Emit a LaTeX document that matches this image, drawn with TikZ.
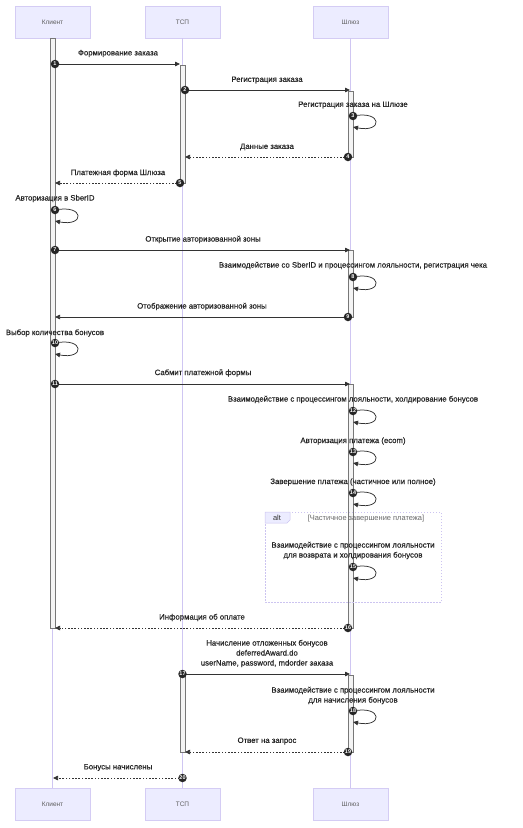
\documentclass[tikz,border=0pt]{standalone}
\usepackage{fontspec}
\setmainfont{Liberation Sans}
\newfontfamily\lblfont[FakeBold=0.6]{Liberation Sans}
\usetikzlibrary{arrows.meta,shapes.misc}
\definecolor{actF}{HTML}{ECECFF}
\definecolor{actB}{HTML}{D4CCF4}
\definecolor{lifeC}{HTML}{CFC6F2}
\definecolor{msgC}{HTML}{333333}
\definecolor{barB}{HTML}{777777}
\definecolor{barF}{HTML}{F4F4F4}
\definecolor{altB}{HTML}{CCC4F0}
\definecolor{condC}{HTML}{666666}
\tikzset{
  actor/.style={draw=actB, fill=actF, line width=0.6bp, minimum width=75bp, minimum height=32bp, inner sep=0pt, font=\fontsize{6.5}{8}\selectfont, text=msgC!80},
  lifeline/.style={draw=lifeC, line width=0.6bp},
  actbar/.style={draw=barB, fill=barF, line width=0.5bp},
  msg/.style={draw=msgC, line width=0.75bp, -{Triangle[length=5bp,width=4.5bp]}},
  reply/.style={msg, dash pattern=on 1.6bp off 1.6bp},
  selfmsg/.style={draw=msgC, line width=0.75bp, -{Triangle[length=5bp,width=4.5bp]}},
  lbl/.style={font=\lblfont\fontsize{7.8}{10}\selectfont, text=black!85, inner sep=0pt, align=center},
  num/.style={circle, fill=black!85, text=white, inner sep=0pt, minimum size=8.5bp, font=\fontsize{5.5}{5}\selectfont\bfseries},
  altbox/.style={draw=altB, dash pattern=on 1.5bp off 1.5bp, line width=0.6bp},
  altlbl/.style={draw=altB, fill=actF, line width=0.5bp},
  cond/.style={font=\fontsize{7.5}{9}\selectfont, text=condC, inner sep=0pt},
}
\begin{document}
\begin{tikzpicture}[x=1bp,y=-1bp]
\useasboundingbox (0,0) rectangle (523,828);
% lifelines
\node[actor] (kT) at (52.5,22) {Клиент};
\node[actor] (tT) at (182.5,22) {ТСП};
\node[actor] (sT) at (350.5,22) {Шлюз};
\node[actor] (kB) at (52.5,804.5) {Клиент};
\node[actor] (tB) at (182.5,804.5) {ТСП};
\node[actor] (sB) at (350.5,804.5) {Шлюз};
\draw[lifeline] (kT.south) -- (kB.north);
\draw[lifeline] (tT.south) -- (tB.north);
\draw[lifeline] (sT.south) -- (sB.north);
% activation bars
\draw[actbar] (50,38) rectangle (55,628);
\draw[actbar] (180,65) rectangle (185,183);
\draw[actbar] (348,91) rectangle (353,157);
\draw[actbar] (348,250) rectangle (353,317);
\draw[actbar] (348,384) rectangle (353,628);
\draw[actbar] (180,674) rectangle (185,752);
\draw[actbar] (348,675) rectangle (353,752);
% alt frame
\draw[altbox] (265,512) rectangle (441,602);
\draw[altlbl] (265,512) -- (290,512) -- (290,520) -- (287,523) -- (265,523) -- cycle;
\node[cond, text=msgC] (altt) at (277,517.5) {alt};
\node[cond] (altc) at (366,519) {[Частичное завершение платежа]};
% 1
\coordinate (m1s) at (55,64); \coordinate (m1e) at (180,64);
\draw[msg] (m1s) -- (m1e);
\node[lbl] (l1) at (118,53.5) {Формирование заказа};
\node[num] (n1) at (m1s) {1};
% 2
\coordinate (m2s) at (185,90); \coordinate (m2e) at (350,90);
\draw[msg] (m2s) -- (m2e);
\node[lbl] (l2) at (267,80) {Регистрация заказа};
\node[num] (n2) at (m2s) {2};
% 3
\coordinate (m3s) at (353,116); \coordinate (m3e) at (353,127);
\draw[selfmsg] (m3s) .. controls (383,110) and (383,133) .. (m3e);
\node[lbl] (l3) at (353,105) {Регистрация заказа на Шлюзе};
\node[num] (n3) at (m3s) {3};
% 4
\coordinate (m4s) at (348,157); \coordinate (m4e) at (185,157);
\draw[reply] (m4s) -- (m4e);
\node[lbl] (l4) at (267,147) {Данные заказа};
\node[num] (n4) at (m4s) {4};
% 5
\coordinate (m5s) at (180,183); \coordinate (m5e) at (55,183);
\draw[reply] (m5s) -- (m5e);
\node[lbl] (l5) at (118,173) {Платежная форма Шлюза};
\node[num] (n5) at (m5s) {5};
% 6
\coordinate (m6s) at (55,210); \coordinate (m6e) at (55,221);
\draw[selfmsg] (m6s) .. controls (85,204) and (85,227) .. (m6e);
\node[lbl] (l6) at (55,198.5) {Авторизация в SberID};
\node[num] (n6) at (m6s) {6};
% 7
\coordinate (m7s) at (55,250); \coordinate (m7e) at (350,250);
\draw[msg] (m7s) -- (m7e);
\node[lbl] (l7) at (203,239.5) {Открытие авторизованной зоны};
\node[num] (n7) at (m7s) {7};
% 8
\coordinate (m8s) at (353,277); \coordinate (m8e) at (353,288);
\draw[selfmsg] (m8s) .. controls (383,271) and (383,294) .. (m8e);
\node[lbl] (l8) at (353,265.5) {Взаимодействие со SberID и процессингом лояльности, регистрация чека};
\node[num] (n8) at (m8s) {8};
% 9
\coordinate (m9s) at (348,317); \coordinate (m9e) at (55,317);
\draw[msg] (m9s) -- (m9e);
\node[lbl] (l9) at (202,306.5) {Отображение авторизованной зоны};
\node[num] (n9) at (m9s) {9};
% 10
\coordinate (m10s) at (55,343); \coordinate (m10e) at (55,354);
\draw[selfmsg] (m10s) .. controls (85,337) and (85,360) .. (m10e);
\node[lbl] (l10) at (55,333) {Выбор количества бонусов};
\node[num] (n10) at (m10s) {10};
% 11
\coordinate (m11s) at (55,384); \coordinate (m11e) at (350,384);
\draw[msg] (m11s) -- (m11e);
\node[lbl] (l11) at (203,373) {Сабмит платежной формы};
\node[num] (n11) at (m11s) {11};
% 12
\coordinate (m12s) at (353,411); \coordinate (m12e) at (353,422);
\draw[selfmsg] (m12s) .. controls (383,405) and (383,428) .. (m12e);
\node[lbl] (l12) at (353,399.5) {Взаимодействие с процессингом лояльности, холдирование бонусов};
\node[num] (n12) at (m12s) {12};
% 13
\coordinate (m13s) at (353,452); \coordinate (m13e) at (353,463);
\draw[selfmsg] (m13s) .. controls (383,446) and (383,469) .. (m13e);
\node[lbl] (l13) at (353,441) {Авторизация платежа (ecom)};
\node[num] (n13) at (m13s) {13};
% 14
\coordinate (m14s) at (353,493); \coordinate (m14e) at (353,504);
\draw[selfmsg] (m14s) .. controls (383,487) and (383,510) .. (m14e);
\node[lbl] (l14) at (353,482) {Завершение платежа (частичное или полное)};
\node[num] (n14) at (m14s) {14};
% 15
\coordinate (m15s) at (353,567); \coordinate (m15e) at (353,578);
\draw[selfmsg] (m15s) .. controls (383,561) and (383,584) .. (m15e);
\node[lbl] (l15) at (353,550.5) {Взаимодействие с процессингом лояльности\\для возврата и холдирования бонусов};
\node[num] (n15) at (m15s) {15};
% 16
\coordinate (m16s) at (348,628); \coordinate (m16e) at (55,628);
\draw[reply] (m16s) -- (m16e);
\node[lbl] (l16) at (202,617.5) {Информация об оплате};
\node[num] (n16) at (m16s) {16};
% 17
\coordinate (m17s) at (182.5,674); \coordinate (m17e) at (350,674);
\draw[msg] (m17s) -- (m17e);
\node[lbl] (l17) at (267,653.5) {Начисление отложенных бонусов\\deferredAward.do\\userName, password, mdorder заказа};
\node[num] (n17) at (m17s) {17};
% 18
\coordinate (m18s) at (353,711); \coordinate (m18e) at (353,722);
\draw[selfmsg] (m18s) .. controls (383,705) and (383,728) .. (m18e);
\node[lbl] (l18) at (353,695.5) {Взаимодействие с процессингом лояльности\\для начисления бонусов};
\node[num] (n18) at (m18s) {18};
% 19
\coordinate (m19s) at (348,752); \coordinate (m19e) at (185,752);
\draw[reply] (m19s) -- (m19e);
\node[lbl] (l19) at (267,741) {Ответ на запрос};
\node[num] (n19) at (m19s) {19};
% 20
\coordinate (m20s) at (182.5,778); \coordinate (m20e) at (53,778);
\draw[reply] (m20s) -- (m20e);
\node[lbl] (l20) at (118,767.5) {Бонусы начислены};
\node[num] (n20) at (m20s) {20};
\end{tikzpicture}
\end{document}
